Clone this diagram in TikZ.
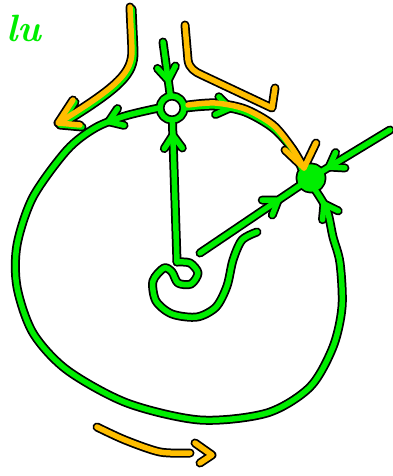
\documentclass[tikz,border=0pt]{standalone}
\usetikzlibrary{decorations.markings}

\definecolor{inkgreen}{RGB}{0,238,0}
\definecolor{inkorange}{RGB}{255,190,0}

\tikzset{
  outline/.style={black, line width=9pt, line cap=round, line join=round},
  ink/.style={inkgreen, line width=5.5pt, line cap=round, line join=round},
  marker/.style={inkorange, line width=5.5pt, line cap=round, line join=round},
  pen/.style={},
  barb/.style={postaction={decorate, decoration={markings,
      mark=at position #1 with {\draw[pen] (-13pt,9pt) -- (0pt,0pt) -- (-13pt,-9pt);}}}},
}

% green sketch, one pass per style
\newcommand{\greenstrokes}[1]{%
  \tikzset{pen/.style={#1}}
  % Hubs
  \draw[#1] (ring.center) circle[radius=12pt];
  \draw[#1, fill] (hub.center) circle[radius=11pt];
  % Edges (spokes)
  \draw[#1, barb=0.72] (feed) -- (ring);
  \draw[#1, barb=0.9] (coil) -- (ring);
  \draw[#1, barb=0.78] (tail) -- (hub);
  \draw[#1, barb=0.9] (east) -- (hub);
  % Edges (rim)
  \draw[#1, barb=45pt] plot[smooth] coordinates {(ring.east) (215,106) (245,112) (273,128) (293,150) (hub.135)};
  \draw[#1, barb=52pt, barb=-16pt] plot[smooth] coordinates {(ring.west) (125,116) (95,128) (67,150) (33,197)
    (17,245) (17,287) (33,333) (67,370) (127,403) (200,420) (267,413) (310,387) (333,347)
    (342,307) (340,263) (333,237) (327,210) (hub.-70)};
  % coil
  \draw[#1] plot[smooth] coordinates {(coil) (190,263) (198,273) (191,284) (178,283) (172,272)
    (164,268) (153,281) (156,301) (172,314) (197,317) (216,307) (227,286) (233,260) (242,240) (257,232)};
  % shadow under the left sweep
  \draw[#1, shift={(2,2)}] (130,7) -- (132,50) .. controls (132,72) and (120,85) .. (60,122);
  \draw[#1, shift={(2,2)}] (73,100) -- (58,123) -- (80,125);
}

% orange marks
\newcommand{\orangestrokes}[1]{%
  \draw[#1] (130,7) -- (132,50) .. controls (132,72) and (120,85) .. (60,122);
  \draw[#1] (73,100) -- (58,123) -- (80,125);
  \draw[#1] (185,25) -- (188,60) .. controls (189,68) and (195,72) .. (202,75) -- (272,108) -- (275,88);
  \draw[#1] plot[smooth] coordinates {(188,105) (215,103) (245,109) (273,125) (292,148) (304,168)};
  \draw[#1] (285,150) -- (304,168) -- (316,143);
  \draw[#1] plot[smooth] coordinates {(97,427) (125,440) (160,452) (190,453)};
  \draw[#1] (195,443) -- (212,455) -- (200,463);
}

\begin{document}
\begin{tikzpicture}[x=1pt, y=-1pt]
  \useasboundingbox[fill=white] (0,0) rectangle (393,476);

  % Nodes
  \node (ring) at (172,108) [circle, inner sep=0pt, minimum size=26pt] {};
  \node (hub) at (311,178) [circle, inner sep=0pt, minimum size=26pt] {};
  \coordinate (feed) at (163,42);
  \coordinate (coil) at (177,262);
  \coordinate (tail) at (200,253);
  \coordinate (east) at (390,130);
  \node (tag) at (24,28) [text=inkgreen, font=\fontsize{38}{38}\selectfont\bfseries\itshape] {lu};

  % Strokes (outlines first, then colour)
  \greenstrokes{outline}
  \orangestrokes{outline}
  \greenstrokes{ink}
  \orangestrokes{marker}
\end{tikzpicture}
\end{document}
